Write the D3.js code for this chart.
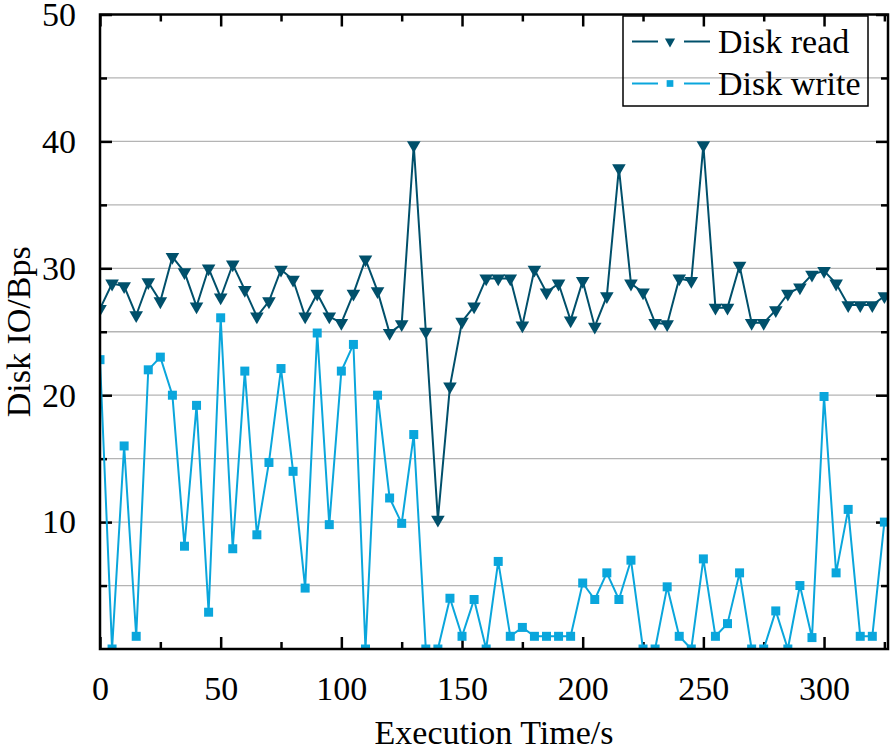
<!DOCTYPE html>
<meta charset="utf-8">
<style>
body { margin: 0; background: #fff; }
svg { display: block; }
text { font-family: "Liberation Serif", "Times New Roman", serif; fill: #000; }
.grid line { stroke: #b4b4b4; stroke-width: 1.3; }
</style>
<body>
<svg width="890" height="749"></svg>
<script src="https://cdn.jsdelivr.net/npm/d3@7"></script>
<script>

// execution time (s)
var times = [0, 5, 10, 15, 20, 25, 30, 35, 40, 45, 50, 55, 60, 65, 70, 75, 80, 85, 90, 95,
  100, 105, 110, 115, 120, 125, 130, 135, 140, 145, 150, 155, 160, 165, 170, 175, 180, 185, 190, 195,
  200, 205, 210, 215, 220, 225, 230, 235, 240, 245, 250, 255, 260, 265, 270, 275, 280, 285, 290, 295,
  300, 305, 310, 315, 320, 325];

var diskRead = [26.8, 28.8, 28.6, 26.3, 28.9, 27.4, 30.9, 29.7, 27.0, 30.0, 27.7, 30.3, 28.3, 26.2, 27.4, 29.9, 29.1, 26.2, 28.0, 26.2,
  25.7, 28.0, 30.7, 28.2, 24.9, 25.6, 39.7, 25.0, 10.2, 20.7, 25.8, 27.0, 29.2, 29.2, 29.2, 25.5, 29.9, 28.1, 28.8, 25.9,
  29.0, 25.4, 27.8, 37.9, 28.8, 28.1, 25.7, 25.6, 29.2, 29.0, 39.7, 26.9, 26.9, 30.2, 25.7, 25.7, 26.7, 28.0, 28.5, 29.5,
  29.8, 28.8, 27.1, 27.1, 27.1, 27.8];

var diskWrite = [22.8, 0, 16.0, 1.0, 22.0, 23.0, 20.0, 8.1, 19.2, 2.9, 26.1, 7.9, 21.9, 9.0, 14.7, 22.1, 14.0, 4.8, 24.9, 9.8,
  21.9, 24.0, 0, 20.0, 11.9, 9.9, 16.9, 0, 0, 4.0, 1.0, 3.9, 0, 6.9, 1.0, 1.7, 1.0, 1.0, 1.0, 1.0,
  5.2, 3.9, 6.0, 3.9, 7.0, 0, 0, 4.9, 1.0, 0, 7.1, 1.0, 2.0, 6.0, 0, 0, 3.0, 0, 5.0, 0.9,
  19.9, 6.0, 11.0, 1.0, 1.0, 10.0];

var xTicks = [0, 50, 100, 150, 200, 250, 300];
var xMinorTicks = [25, 75, 125, 175, 225, 275, 325];
var yTicks = [10, 20, 30, 40, 50];
var yMinorTicks = [5, 15, 25, 35, 45];

var seriesNames = ["Disk read", "Disk write"];
var seriesColors = ["#00506b", "#0aa6dc"];

var svg = d3.select("svg");

var plotLeft = 100, plotRight = 888, plotTop = 14.5, plotBottom = 649;

var x = d3.scaleLinear().domain([0, 326.5]).range([plotLeft, plotRight]);
var y = d3.scaleLinear().domain([0, 50]).range([plotBottom, plotTop]);

// grid lines every 5
svg.append("g").attr("class", "grid")
  .selectAll("line")
  .data(yTicks.concat(yMinorTicks).filter(function(d) { return d < 50; }))
  .enter().append("line")
    .attr("x1", plotLeft).attr("x2", plotRight)
    .attr("y1", function(d) { return y(d); })
    .attr("y2", function(d) { return y(d); });

// axes: ticks pointing inward on all four sides
function styleAxis(g) {
  g.select(".domain").remove();
  g.selectAll(".tick line").attr("stroke", "#000").attr("stroke-width", 2.5);
  g.selectAll(".tick text").style("font-size", "34px").style("font-family", "Liberation Serif, serif");
}

svg.append("g").attr("transform", "translate(0," + plotBottom + ")")
  .call(d3.axisBottom(x).tickValues(xTicks).tickSize(-12).tickPadding(27).tickFormat(d3.format("d")))
  .call(styleAxis);
svg.append("g").attr("transform", "translate(0," + plotBottom + ")")
  .call(d3.axisBottom(x).tickValues(xMinorTicks).tickSize(-7).tickFormat(""))
  .call(styleAxis);
svg.append("g").attr("transform", "translate(0," + plotTop + ")")
  .call(d3.axisTop(x).tickValues(xTicks).tickSize(-12).tickFormat(""))
  .call(styleAxis);
svg.append("g").attr("transform", "translate(0," + plotTop + ")")
  .call(d3.axisTop(x).tickValues(xMinorTicks).tickSize(-7).tickFormat(""))
  .call(styleAxis);

svg.append("g").attr("transform", "translate(" + plotLeft + ",0)")
  .call(d3.axisLeft(y).tickValues(yTicks).tickSize(-12).tickPadding(24).tickFormat(d3.format("d")))
  .call(styleAxis);
svg.append("g").attr("transform", "translate(" + plotLeft + ",0)")
  .call(d3.axisLeft(y).tickValues(yMinorTicks).tickSize(-7).tickFormat(""))
  .call(styleAxis);
svg.append("g").attr("transform", "translate(" + plotRight + ",0)")
  .call(d3.axisRight(y).tickValues(yTicks).tickSize(-12).tickFormat(""))
  .call(styleAxis);
svg.append("g").attr("transform", "translate(" + plotRight + ",0)")
  .call(d3.axisRight(y).tickValues(yMinorTicks).tickSize(-7).tickFormat(""))
  .call(styleAxis);

// clip for the data
svg.append("clipPath").attr("id", "plot")
  .append("rect")
    .attr("x", plotLeft).attr("y", plotTop)
    .attr("width", plotRight - plotLeft).attr("height", plotBottom - plotTop);

var line = d3.line()
  .x(function(d) { return x(d[0]); })
  .y(function(d) { return y(d[1]); });

var triangle = d3.symbol().type(d3.symbolTriangle).size(80);
var square = d3.symbol().type(d3.symbolSquare).size(81);

var series = [diskRead, diskWrite];
var symbols = [triangle, square];

var plot = svg.append("g").attr("clip-path", "url(#plot)");

series.forEach(function(vals, i) {
  var pts = times.map(function(t, j) { return [t, vals[j]]; });
  plot.append("path")
    .datum(pts)
    .attr("fill", "none")
    .attr("stroke", seriesColors[i])
    .attr("stroke-width", 2)
    .attr("d", line);
  plot.selectAll(".m" + i)
    .data(pts)
    .enter().append("path")
      .attr("class", "m" + i)
      .attr("fill", seriesColors[i])
      .attr("d", symbols[i])
      .attr("transform", function(d) {
        return "translate(" + x(d[0]) + "," + y(d[1]) + ")" + (i == 0 ? " rotate(180)" : "");
      });
});

// frame
svg.append("rect")
  .attr("x", plotLeft).attr("y", plotTop)
  .attr("width", plotRight - plotLeft).attr("height", plotBottom - plotTop)
  .attr("fill", "none")
  .attr("stroke", "#000")
  .attr("stroke-width", 2.5);

// axis titles
svg.append("text")
  .attr("x", (plotLeft + plotRight) / 2)
  .attr("y", 744)
  .attr("text-anchor", "middle")
  .style("font-size", "34px")
  .text("Execution Time/s");

svg.append("text")
  .attr("transform", "translate(30," + (plotBottom + plotTop) / 2 + ") rotate(-90)")
  .attr("text-anchor", "middle")
  .style("font-size", "34px")
  .text("Disk IO/Bps");

// legend
var legend = svg.append("g");
legend.append("rect")
  .attr("x", 623).attr("y", 16)
  .attr("width", 245).attr("height", 90)
  .attr("fill", "none")
  .attr("stroke", "#000")
  .attr("stroke-width", 1.5);

seriesNames.forEach(function(name, i) {
  var ly = 41.5 + i * 42;
  legend.append("line")
    .attr("x1", 632).attr("x2", 658).attr("y1", ly).attr("y2", ly)
    .attr("stroke", seriesColors[i]).attr("stroke-width", 2);
  legend.append("line")
    .attr("x1", 684).attr("x2", 710).attr("y1", ly).attr("y2", ly)
    .attr("stroke", seriesColors[i]).attr("stroke-width", 2);
  legend.append("path")
    .attr("fill", seriesColors[i])
    .attr("d", (i == 0 ? d3.symbol().type(d3.symbolTriangle).size(45) : d3.symbol().type(d3.symbolSquare).size(45)))
    .attr("transform", "translate(670," + ly + ")" + (i == 0 ? " rotate(180)" : ""));
  legend.append("text")
    .attr("x", 718)
    .attr("y", ly + 11)
    .style("font-size", "34px")
    .text(name);
});

</script>
</body>
